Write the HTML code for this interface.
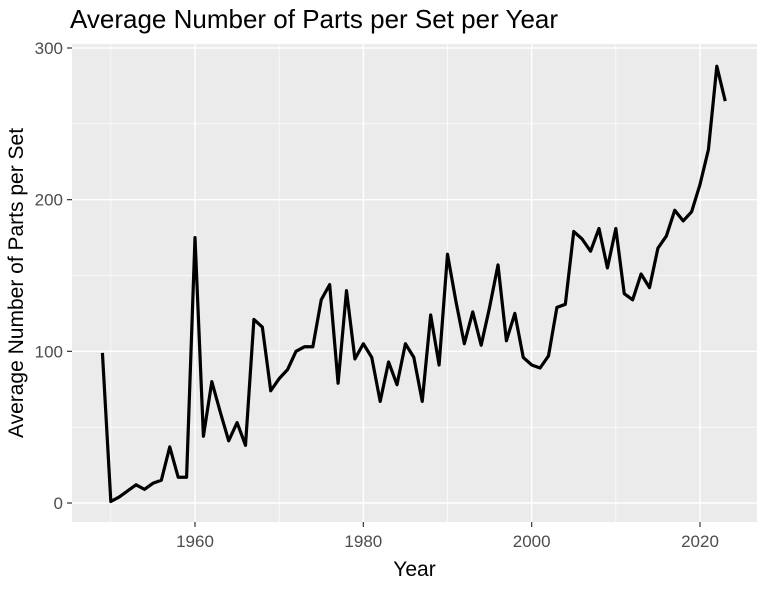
<!DOCTYPE html>
<html><head><meta charset="utf-8"><style>
body{margin:0;background:#fff;width:765px;height:589px;overflow:hidden}
svg text{font-family:"Liberation Sans",Arial,sans-serif}
</style></head><body>
<svg id="chart" width="765" height="589"></svg>
<script>
const years=[1949,1950,1951,1952,1953,1954,1955,1956,1957,1958,1959,1960,1961,1962,1963,1964,1965,1966,1967,1968,1969,1970,1971,1972,1973,1974,1975,1976,1977,1978,1979,1980,1981,1982,1983,1984,1985,1986,1987,1988,1989,1990,1991,1992,1993,1994,1995,1996,1997,1998,1999,2000,2001,2002,2003,2004,2005,2006,2007,2008,2009,2010,2011,2012,2013,2014,2015,2016,2017,2018,2019,2020,2021,2022,2023];
const avgParts=[99,1,4,8,12,9,13,15,37,17,17,175,44,80,60,41,53,38,121,116,74,82,88,100,103,103,134,144,79,140,95,105,96,67,93,78,105,96,67,124,91,164,133,105,126,104,129,157,107,125,96,91,89,97,129,131,179,174,166,181,155,181,138,134,151,142,168,176,193,186,192,210,233,288,265];
const xTicks=[1960,1980,2000,2020];
const yTicks=[0,100,200,300];
const NS="http://www.w3.org/2000/svg";
const svg=document.getElementById('chart');
const L=72,R=757,T=44,B=522;
const x=v=>195+(v-1960)*(700-195)/60;
const y=v=>503-v*(503-48)/300;
function mk(tag,attrs,parent){const e=document.createElementNS(NS,tag);for(const k in attrs)e.setAttribute(k,attrs[k]);(parent||svg).appendChild(e);return e;}
const panel=mk('rect',{x:L,y:T,width:R-L,height:B-T,fill:'#ebebeb'});


for(let i=0;i<yTicks.length-1;i++){const m=(yTicks[i]+yTicks[i+1])/2;const g=mk('line',{x1:L,x2:R,y1:y(m),y2:y(m),stroke:'#fff','stroke-width':0.7});

}
[1950,1970,1990,2010].forEach(m=>{const g=mk('line',{y1:T,y2:B,x1:x(m),x2:x(m),stroke:'#fff','stroke-width':0.7});

});
yTicks.forEach(v=>{const g=mk('line',{x1:L,x2:R,y1:y(v),y2:y(v),stroke:'#fff','stroke-width':1.4});


mk('line',{x1:L-5,x2:L,y1:y(v),y2:y(v),stroke:'#333','stroke-width':1.2});
const l=mk('text',{x:L-9,y:y(v)+6,'text-anchor':'end','font-size':17,fill:'#4d4d4d'});l.textContent=v;

});
xTicks.forEach(v=>{const g=mk('line',{y1:T,y2:B,x1:x(v),x2:x(v),stroke:'#fff','stroke-width':1.4});


mk('line',{y1:B,y2:B+5,x1:x(v),x2:x(v),stroke:'#333','stroke-width':1.2});
const l=mk('text',{x:x(v),y:B+25,'text-anchor':'middle','font-size':17,fill:'#4d4d4d'});l.textContent=v;

});
const line=mk('polyline',{points:years.map((yr,i)=>x(yr)+','+y(avgParts[i])).join(' '),fill:'none',stroke:'#000','stroke-width':3.2,'stroke-linejoin':'round'});


const title=mk('text',{x:70,y:28,'font-size':26,fill:'#000'});title.textContent='Average Number of Parts per Set per Year';


const xt=mk('text',{x:(L+R)/2,y:576,'text-anchor':'middle','font-size':21,fill:'#000'});xt.textContent='Year';


const yt=mk('text',{x:0,y:0,'text-anchor':'middle','font-size':21,fill:'#000',transform:'translate(23,'+((T+B)/2)+') rotate(-90)'});yt.textContent='Average Number of Parts per Set';


</script>
</body></html>
